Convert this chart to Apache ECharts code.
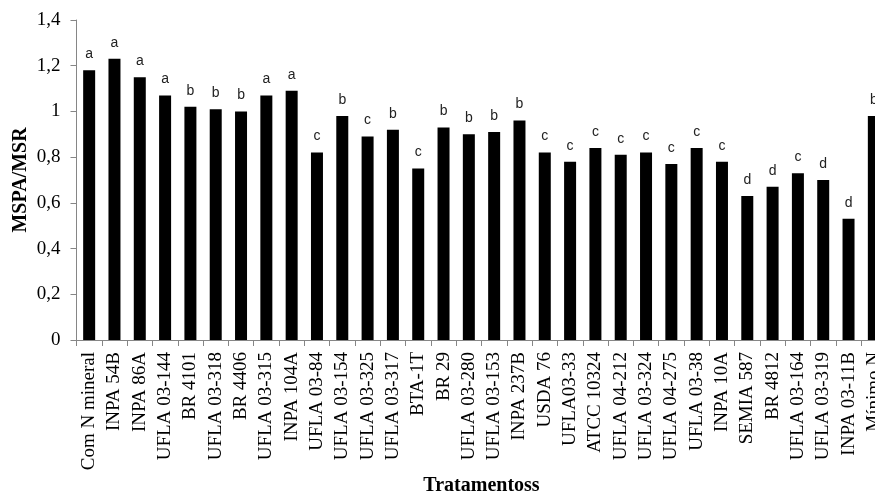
<!DOCTYPE html>
<html>
<head>
<meta charset="utf-8">
<script src="https://cdn.jsdelivr.net/npm/echarts@6/dist/echarts.min.js"></script>
<style>
  html, body { margin: 0; padding: 0; background: #fff; }
  #chart { width: 875px; height: 494px; }
</style>
</head>
<body>
<div id="chart"></div>
<script>
// Treatments (rhizobia strains and controls)
const categories = [
  'Com N mineral', 'INPA 54B', 'INPA 86A', 'UFLA 03-144', 'BR 4101', 'UFLA 03-318',
  'BR 4406', 'UFLA 03-315', 'INPA 104A', 'UFLA 03-84', 'UFLA 03-154', 'UFLA 03-325',
  'UFLA 03-317', 'BTA-1T', 'BR 29', 'UFLA 03-280', 'UFLA 03-153', 'INPA 237B',
  'USDA 76', 'UFLA03-33', 'ATCC 10324', 'UFLA 04-212', 'UFLA 03-324', 'UFLA 04-275',
  'UFLA 03-38', 'INPA 10A', 'SEMIA 587', 'BR 4812', 'UFLA 03-164', 'UFLA 03-319',
  'INPA 03-11B', 'Mínimo N'
];

// Shoot/root dry mass ratio per treatment
const ratios = [
  1.18, 1.23, 1.15, 1.07, 1.02, 1.01,
  1.00, 1.07, 1.09, 0.82, 0.98, 0.89,
  0.92, 0.75, 0.93, 0.90, 0.91, 0.96,
  0.82, 0.78, 0.84, 0.81, 0.82, 0.77,
  0.84, 0.78, 0.63, 0.67, 0.73, 0.70,
  0.53, 0.98
];

// Mean-comparison groups
const groups = [
  'a', 'a', 'a', 'a', 'b', 'b',
  'b', 'a', 'a', 'c', 'b', 'c',
  'b', 'c', 'b', 'b', 'b', 'b',
  'c', 'c', 'c', 'c', 'c', 'c',
  'c', 'c', 'd', 'd', 'c', 'd',
  'd', 'b'
];

const yMin = 0, yMax = 1.4, yStep = 0.2;

const serif = '"Liberation Serif", "Times New Roman", serif';
const axisGray = '#868686';

const chart = echarts.init(document.getElementById('chart'), null, { renderer: 'canvas' });

chart.setOption({
  animation: false,
  backgroundColor: '#ffffff',
  // the plot runs past the right edge of the canvas, so the last bar is clipped
  grid: { left: 76.5, top: 20, width: 810, height: 320, containLabel: false, outerBoundsMode: 'none' },
  xAxis: {
    type: 'category',
    data: categories,
    name: 'Tratamentoss',
    nameLocation: 'middle',
    nameGap: 136,
    nameMoveOverlap: false,
    nameTextStyle: { fontFamily: serif, fontWeight: 'bold', fontSize: 20, color: '#000' },
    axisLine: { lineStyle: { color: axisGray, width: 1 } },
    axisTick: { show: true, length: 6, lineStyle: { color: axisGray } },
    axisLabel: {
      interval: 0,
      rotate: 90,
      margin: 12,
      fontFamily: serif,
      fontSize: 19,
      color: '#000'
    },
    splitLine: { show: false }
  },
  yAxis: {
    type: 'value',
    min: yMin,
    max: yMax,
    interval: yStep,
    name: 'MSPA/MSR',
    nameLocation: 'middle',
    nameRotate: 90,
    nameGap: 46,
    nameMoveOverlap: false,
    nameTextStyle: { fontFamily: serif, fontWeight: 'bold', fontSize: 20, color: '#000' },
    axisLine: { show: true, lineStyle: { color: axisGray, width: 1 } },
    axisTick: { show: true, length: 6, lineStyle: { color: axisGray } },
    axisLabel: {
      margin: 16,
      fontFamily: serif,
      fontSize: 19,
      color: '#000',
      formatter: v => String(+v.toFixed(1)).replace('.', ',')
    },
    splitLine: { show: false }
  },
  series: [{
    type: 'bar',
    data: ratios,
    barWidth: 12,
    itemStyle: { color: '#000' },
    label: {
      show: true,
      position: 'top',
      distance: 9,
      fontFamily: '"Liberation Sans", Arial, sans-serif',
      fontSize: 14,
      color: '#222',
      formatter: p => groups[p.dataIndex]
    }
  }]
});
</script>
</body>
</html>
